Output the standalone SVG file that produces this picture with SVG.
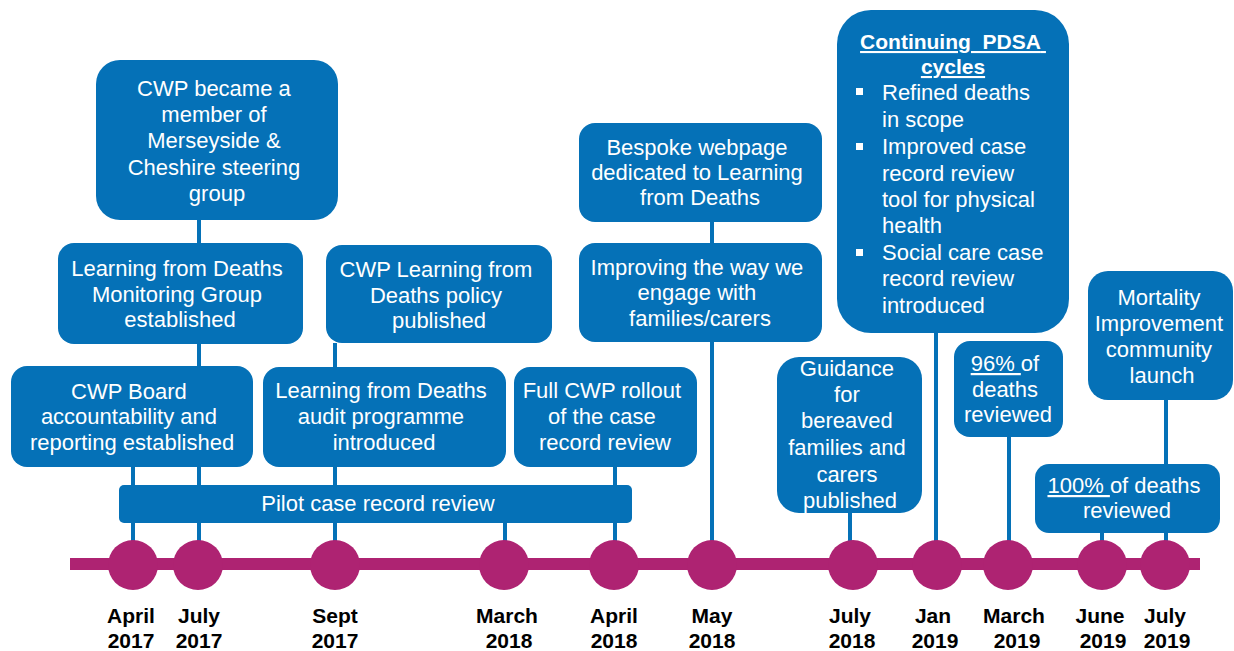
<svg xmlns="http://www.w3.org/2000/svg" width="1234" height="651" viewBox="0 0 1234 651">
  <style>
    .box { fill: #0571b7; }
    .btxt { fill: #ffffff; font-family: "Liberation Sans", Arial, sans-serif; font-size: 22px; text-anchor: middle; }
    .ltxt { fill: #ffffff; font-family: "Liberation Sans", Arial, sans-serif; font-size: 22px; }
    .title { font-weight: bold; font-size: 21px; text-decoration: underline; }
    .u { text-decoration: underline; }
    .link { stroke: #0571b7; stroke-width: 4; fill: none; }
    .dot { fill: #ae2372; }
    .date { fill: #000000; font-family: "Liberation Sans", Arial, sans-serif; font-size: 21px; font-weight: bold; text-anchor: middle; }
    .bullet { fill: #ffffff; }
  </style>

  <!-- vertical links from event boxes down to the timeline -->
  <g id="connectors">
    <line class="link" x1="133" y1="467" x2="133" y2="545"/>
    <line class="link" x1="199" y1="220" x2="199" y2="545"/>
    <line class="link" x1="335" y1="343" x2="335" y2="545"/>
    <line class="link" x1="505" y1="523" x2="505" y2="545"/>
    <line class="link" x1="615" y1="467" x2="615" y2="545"/>
    <line class="link" x1="712" y1="222" x2="712" y2="545"/>
    <line class="link" x1="850" y1="513" x2="850" y2="545"/>
    <line class="link" x1="936" y1="333" x2="936" y2="545"/>
    <line class="link" x1="1009" y1="437" x2="1009" y2="545"/>
    <line class="link" x1="1102" y1="533" x2="1102" y2="545"/>
    <line class="link" x1="1166" y1="400" x2="1166" y2="545"/>
  </g>

  <!-- timeline axis with milestone dots -->
  <g id="timeline">
    <rect x="70" y="558" width="1130" height="12" fill="#ae2372"/>
    <circle class="dot" cx="133" cy="565" r="25"/>
    <circle class="dot" cx="198" cy="565" r="25"/>
    <circle class="dot" cx="335" cy="565" r="25"/>
    <circle class="dot" cx="504" cy="565" r="25"/>
    <circle class="dot" cx="614" cy="565" r="25"/>
    <circle class="dot" cx="712" cy="565" r="25"/>
    <circle class="dot" cx="853" cy="565" r="25"/>
    <circle class="dot" cx="937" cy="565" r="25"/>
    <circle class="dot" cx="1008" cy="565" r="25"/>
    <circle class="dot" cx="1102" cy="565" r="25"/>
    <circle class="dot" cx="1165" cy="565" r="25"/>
  </g>

  <g id="steering-group">
    <rect class="box" x="96" y="60" width="242" height="160" rx="24"/>
    <text class="btxt" x="217">
      <tspan x="217" y="96">CWP became a</tspan>
      <tspan x="217" y="122">member of</tspan>
      <tspan x="217" y="148">Merseyside &amp;</tspan>
      <tspan x="217" y="175">Cheshire steering</tspan>
      <tspan x="217" y="201">group</tspan>
    </text>
  </g>

  <g id="monitoring-group">
    <rect class="box" x="58" y="243" width="245" height="101" rx="16"/>
    <text class="btxt">
      <tspan x="180" y="276">Learning from Deaths</tspan>
      <tspan x="180" y="302">Monitoring Group</tspan>
      <tspan x="180" y="327">established</tspan>
    </text>
  </g>

  <g id="board-reporting">
    <rect class="box" x="11" y="366" width="242" height="101" rx="16"/>
    <text class="btxt">
      <tspan x="132" y="399">CWP Board</tspan>
      <tspan x="132" y="424">accountability and</tspan>
      <tspan x="132" y="450">reporting established</tspan>
    </text>
  </g>

  <g id="policy-published">
    <rect class="box" x="326" y="245" width="226" height="98" rx="16"/>
    <text class="btxt">
      <tspan x="439" y="277">CWP Learning from</tspan>
      <tspan x="439" y="303">Deaths policy</tspan>
      <tspan x="439" y="328">published</tspan>
    </text>
  </g>

  <g id="audit-programme">
    <rect class="box" x="263" y="367" width="243" height="100" rx="16"/>
    <text class="btxt">
      <tspan x="384" y="398">Learning from Deaths</tspan>
      <tspan x="384" y="424">audit programme</tspan>
      <tspan x="384" y="450">introduced</tspan>
    </text>
  </g>

  <g id="full-rollout">
    <rect class="box" x="514" y="367" width="183" height="100" rx="16"/>
    <text class="btxt">
      <tspan x="605" y="398">Full CWP rollout</tspan>
      <tspan x="605" y="424">of the case</tspan>
      <tspan x="605" y="450">record review</tspan>
    </text>
  </g>

  <g id="pilot-review">
    <rect class="box" x="119" y="485" width="513" height="38" rx="5"/>
    <text class="btxt" x="378" y="511">Pilot case record review</text>
  </g>

  <g id="bespoke-webpage">
    <rect class="box" x="579" y="123" width="243" height="99" rx="16"/>
    <text class="btxt">
      <tspan x="700" y="155">Bespoke webpage</tspan>
      <tspan x="700" y="180">dedicated to Learning</tspan>
      <tspan x="700" y="205">from Deaths</tspan>
    </text>
  </g>

  <g id="engage-families">
    <rect class="box" x="579" y="243" width="243" height="99" rx="16"/>
    <text class="btxt">
      <tspan x="700" y="275">Improving the way we</tspan>
      <tspan x="700" y="300">engage with</tspan>
      <tspan x="700" y="326">families/carers</tspan>
    </text>
  </g>

  <g id="pdsa-cycles">
    <rect class="box" x="837" y="10" width="232" height="323" rx="34"/>
    <text class="btxt title">
      <tspan x="953" y="49">Continuing&#160; PDSA</tspan>
      <tspan x="953" y="74">cycles</tspan>
    </text>
    <rect class="bullet" x="856" y="88" width="7" height="7"/>
    <rect class="bullet" x="856" y="143" width="7" height="7"/>
    <rect class="bullet" x="856" y="249" width="7" height="7"/>
    <text class="ltxt">
      <tspan x="882" y="100">Refined deaths</tspan>
      <tspan x="882" y="127">in scope</tspan>
      <tspan x="882" y="154">Improved case</tspan>
      <tspan x="882" y="181">record review</tspan>
      <tspan x="882" y="207">tool for physical</tspan>
      <tspan x="882" y="233">health</tspan>
      <tspan x="882" y="260">Social care case</tspan>
      <tspan x="882" y="286">record review</tspan>
      <tspan x="882" y="313">introduced</tspan>
    </text>
  </g>

  <g id="bereaved-guidance">
    <rect class="box" x="777" y="357" width="145" height="156" rx="22"/>
    <text class="btxt">
      <tspan x="850" y="376">Guidance</tspan>
      <tspan x="850" y="402">for</tspan>
      <tspan x="850" y="428">bereaved</tspan>
      <tspan x="850" y="455">families and</tspan>
      <tspan x="850" y="482">carers</tspan>
      <tspan x="850" y="508">published</tspan>
    </text>
  </g>

  <g id="reviewed-96">
    <rect class="box" x="954" y="341" width="109" height="96" rx="16"/>
    <text class="btxt">
      <tspan x="1008" y="371"><tspan class="u">96% </tspan>of</tspan>
      <tspan x="1008" y="397">deaths</tspan>
      <tspan x="1008" y="422">reviewed</tspan>
    </text>
  </g>

  <g id="mortality-community">
    <rect class="box" x="1088" y="271" width="145" height="129" rx="20"/>
    <text class="btxt">
      <tspan x="1162" y="305">Mortality</tspan>
      <tspan x="1162" y="331">Improvement</tspan>
      <tspan x="1162" y="357">community</tspan>
      <tspan x="1162" y="383">launch</tspan>
    </text>
  </g>

  <g id="reviewed-100">
    <rect class="box" x="1035" y="464" width="185" height="69" rx="14"/>
    <text class="btxt">
      <tspan x="1127" y="493"><tspan class="u">100% </tspan>of deaths</tspan>
      <tspan x="1127" y="518">reviewed</tspan>
    </text>
  </g>

  <!-- month / year labels under the axis -->
  <g id="dates">
    <text class="date"><tspan x="131" y="623">April</tspan><tspan x="131" y="648">2017</tspan></text>
    <text class="date"><tspan x="199" y="623">July</tspan><tspan x="199" y="648">2017</tspan></text>
    <text class="date"><tspan x="335" y="623">Sept</tspan><tspan x="335" y="648">2017</tspan></text>
    <text class="date"><tspan x="507" y="623">March</tspan><tspan x="509" y="648">2018</tspan></text>
    <text class="date"><tspan x="614" y="623">April</tspan><tspan x="614" y="648">2018</tspan></text>
    <text class="date"><tspan x="712" y="623">May</tspan><tspan x="712" y="648">2018</tspan></text>
    <text class="date"><tspan x="850" y="623">July</tspan><tspan x="852" y="648">2018</tspan></text>
    <text class="date"><tspan x="933" y="623">Jan</tspan><tspan x="935" y="648">2019</tspan></text>
    <text class="date"><tspan x="1014" y="623">March</tspan><tspan x="1017" y="648">2019</tspan></text>
    <text class="date"><tspan x="1100" y="623">June</tspan><tspan x="1103" y="648">2019</tspan></text>
    <text class="date"><tspan x="1165" y="623">July</tspan><tspan x="1167" y="648">2019</tspan></text>
  </g>
</svg>
